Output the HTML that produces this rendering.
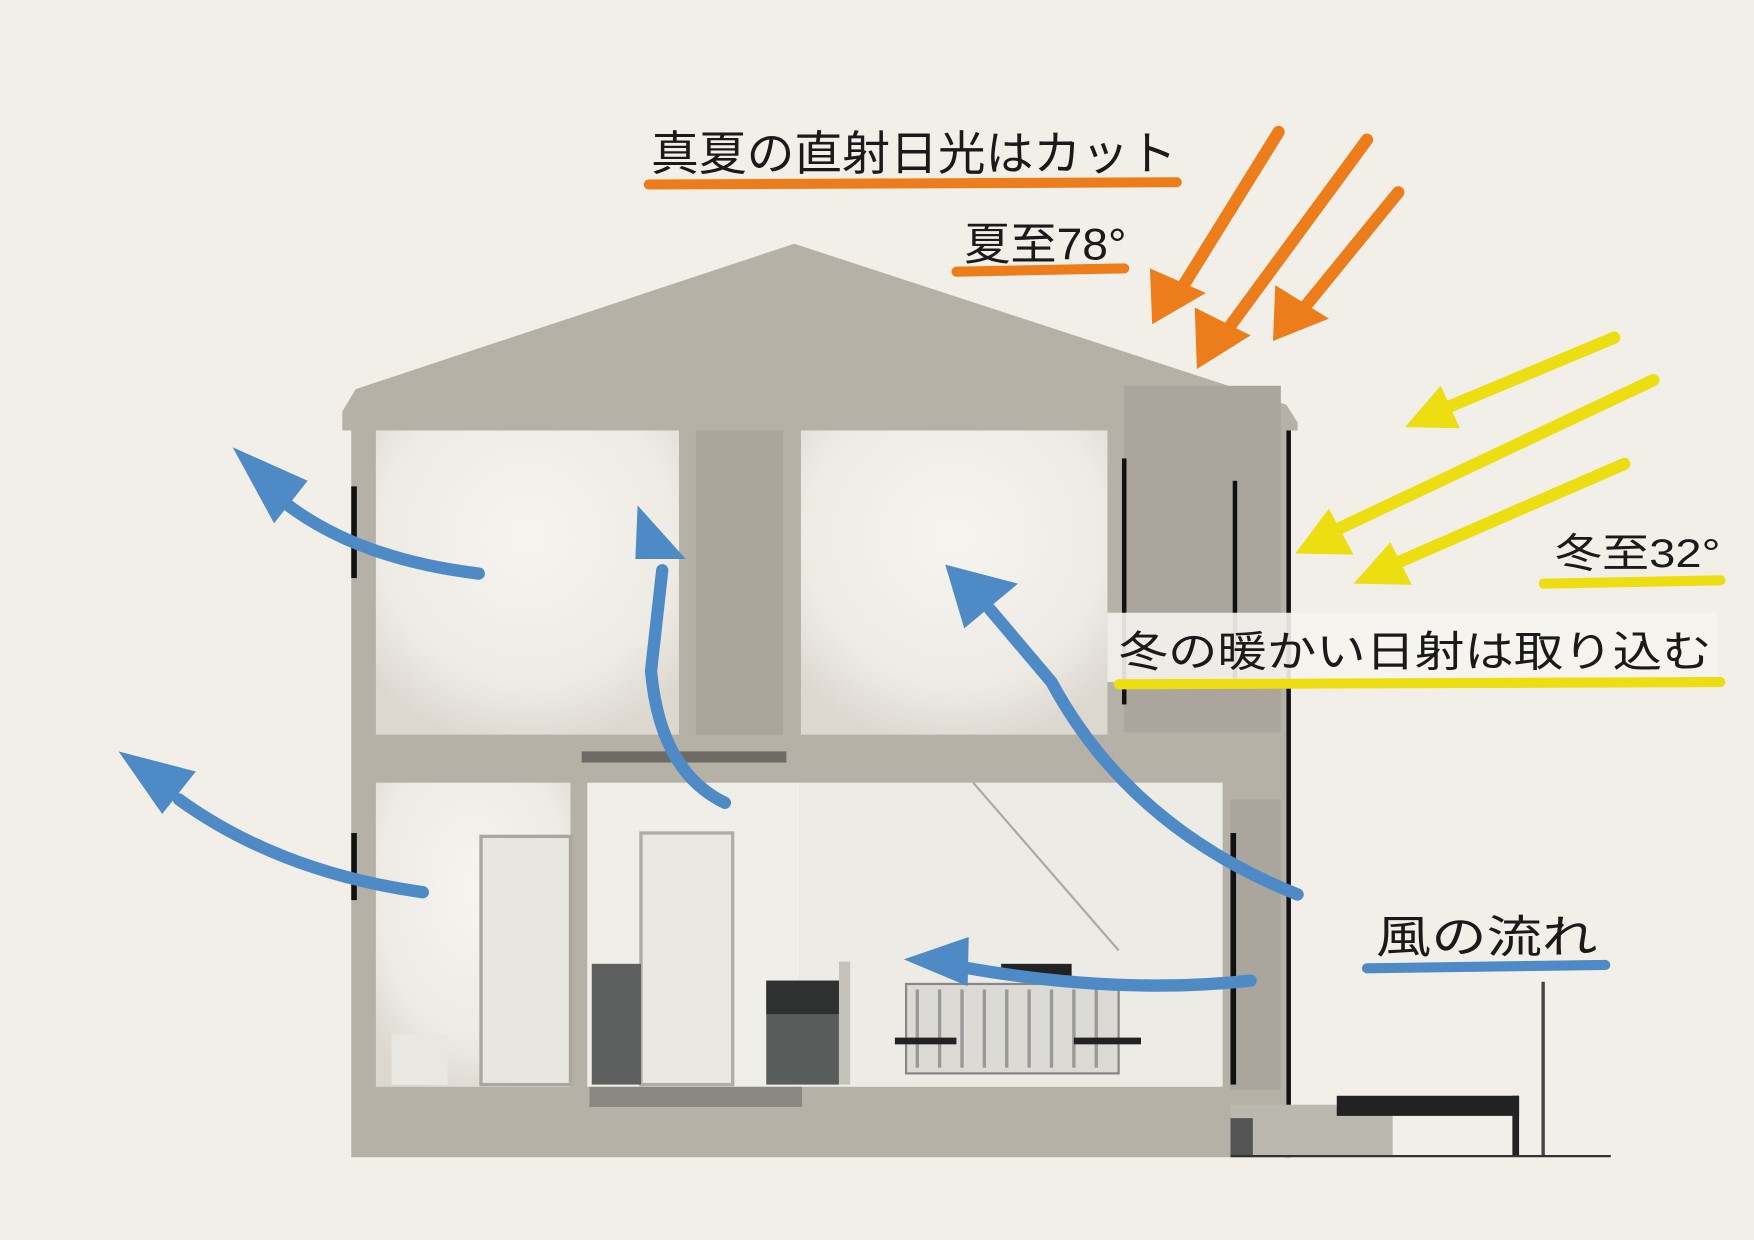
<!DOCTYPE html>
<html><head><meta charset="utf-8"><style>
html,body{margin:0;padding:0;background:#f2efe9;}
svg{display:block}
text{font-family:"Liberation Sans","Noto Sans CJK JP",sans-serif;fill:#1a1a1a;}
</style></head><body>
<svg width="1754" height="1240" viewBox="0 0 1568 1109" preserveAspectRatio="none" xmlns="http://www.w3.org/2000/svg">
<defs>
<radialGradient id="rg" cx="0.5" cy="0.35" r="0.7"><stop offset="0" stop-color="#f6f4ef"/><stop offset="0.7" stop-color="#eeebe5"/><stop offset="1" stop-color="#dcd8d0"/></radialGradient>
</defs>
<rect width="1568" height="1109" fill="#f2efe9"/>
<!-- house -->
<polygon points="318,348 710,218 1150,362 1160,378 1160,385 306,385 306,368" fill="#b6b1a7"/>
<rect x="314" y="380" width="840" height="655" fill="#b6b1a7"/>
<rect x="1005" y="345" width="140" height="310" fill="#aaa69e"/>
<rect x="336" y="385" width="271" height="272" fill="url(#rg)"/>
<rect x="622" y="385" width="78" height="272" fill="#aba69c"/>
<rect x="716" y="385" width="274" height="272" fill="url(#rg)"/>
<rect x="336" y="700" width="174" height="272" fill="url(#rg)"/>
<rect x="525" y="700" width="190" height="272" fill="#f0eee9"/>
<rect x="715" y="700" width="378" height="272" fill="#ecebe6"/>
<rect x="520" y="672" width="183" height="10" fill="#6e6b66"/>
<rect x="1100" y="715" width="45" height="260" fill="#aaa69e"/>
<rect x="430" y="748" width="80" height="222" fill="#e8e6e1" stroke="#a9a79f" stroke-width="3"/>
<rect x="350" y="925" width="50" height="45" fill="#e9e7e2"/>
<rect x="573" y="745" width="82" height="225" fill="#eae8e3" stroke="#b0ada6" stroke-width="3"/>
<rect x="529" y="862" width="44" height="108" fill="#5d605f"/>
<rect x="685" y="877" width="65" height="93" fill="#585c5b"/>
<rect x="685" y="877" width="65" height="30" fill="#2f3131"/>
<rect x="750" y="860" width="10" height="110" fill="#c5c2bb"/>
<rect x="810" y="880" width="190" height="80" fill="#dcdad5" stroke="#888" stroke-width="2"/>
<g stroke="#999" stroke-width="3"><line x1="820" y1="885" x2="820" y2="955"/><line x1="840" y1="885" x2="840" y2="955"/><line x1="860" y1="885" x2="860" y2="955"/><line x1="880" y1="885" x2="880" y2="955"/><line x1="900" y1="885" x2="900" y2="955"/><line x1="920" y1="885" x2="920" y2="955"/><line x1="940" y1="885" x2="940" y2="955"/><line x1="960" y1="885" x2="960" y2="955"/><line x1="980" y1="885" x2="980" y2="955"/></g>
<rect x="800" y="928" width="55" height="6" fill="#222"/><rect x="960" y="928" width="60" height="6" fill="#222"/>
<rect x="895" y="862" width="63" height="12" fill="#222"/>
<line x1="870" y1="700" x2="1000" y2="850" stroke="#aaa" stroke-width="2"/>
<rect x="527" y="972" width="190" height="18" fill="#8a8780"/>
<g fill="#111"><rect x="314" y="435" width="5" height="82"/><rect x="314" y="745" width="5" height="60"/><rect x="1003" y="410" width="4" height="220"/><rect x="1102" y="430" width="4" height="185"/><rect x="1100" y="745" width="5" height="225"/><rect x="1150" y="385" width="4" height="650"/></g>
<rect x="1100" y="988" width="145" height="45" fill="#bbb8b0"/>
<rect x="1100" y="1000" width="20" height="33" fill="#555"/>
<rect x="1195" y="980" width="163" height="18" fill="#222"/>
<rect x="1352" y="980" width="6" height="53" fill="#222"/>
<rect x="1378" y="878" width="3" height="155" fill="#444"/>
<line x1="1100" y1="1034" x2="1440" y2="1034" stroke="#333" stroke-width="2"/>
<!-- orange arrows -->
<g stroke="#ec7d1a" stroke-width="11" stroke-linecap="round" fill="none">
<line x1="1143" y1="118" x2="1055" y2="260"/>
<line x1="1222" y1="125" x2="1095" y2="298"/>
<line x1="1250" y1="172" x2="1162" y2="280"/>
</g>
<g fill="#ec7d1a">
<polygon points="1030,290 1028,240 1078,262"/>
<polygon points="1070,330 1068,275 1118,300"/>
<polygon points="1138,305 1140,255 1188,285"/>
</g>
<!-- yellow arrows -->
<g stroke="#ecde10" stroke-width="11" stroke-linecap="round" fill="none">
<line x1="1443" y1="302" x2="1290" y2="366"/>
<line x1="1478" y1="340" x2="1190" y2="476"/>
<line x1="1452" y1="415" x2="1245" y2="505"/>
</g>
<g fill="#ecde10">
<polygon points="1256,382 1288,345 1305,383"/>
<polygon points="1158,495 1188,455 1210,496"/>
<polygon points="1210,522 1243,485 1262,523"/>
</g>
<!-- blue arrows -->
<g stroke="#4e8ac6" stroke-width="11" stroke-linecap="round" fill="none">
<path d="M428,513 Q320,500 255,450"/>
<path d="M378,798 Q250,780 160,715"/>
<path d="M648,718 Q590,690 582,600 L592,510"/>
<path d="M1160,800 Q1010,740 940,610 L885,545"/>
<path d="M1118,877 Q1000,890 860,865"/>
</g>
<g fill="#4e8ac6">
<polygon points="208,400 275,430 245,468"/>
<polygon points="106,672 175,690 145,728"/>
<polygon points="570,452 613,500 568,500"/>
<polygon points="845,505 910,522 862,562"/>
<polygon points="808,858 866,838 865,882"/>
</g>
<!-- labels -->
<rect x="990" y="548" width="545" height="62" fill="#f6f4f0" opacity="0.9"/>
<g stroke-linecap="round" fill="none" stroke-width="9">
<line x1="580" y1="165" x2="1052" y2="163" stroke="#ec7d1a"/>
<line x1="855" y1="243" x2="1005" y2="240" stroke="#ec7d1a"/>
<line x1="1380" y1="522" x2="1538" y2="519" stroke="#ecde10"/>
<line x1="1000" y1="612" x2="1538" y2="610" stroke="#ecde10"/>
<line x1="1222" y1="866" x2="1435" y2="863" stroke="#4e8ac6"/>
</g>
<text x="582" y="152" font-size="42" textLength="470" lengthAdjust="spacingAndGlyphs">真夏の直射日光はカット</text>
<text x="862" y="232" font-size="40" textLength="145" lengthAdjust="spacingAndGlyphs">夏至78°</text>
<text x="1390" y="507" font-size="36" textLength="148" lengthAdjust="spacingAndGlyphs">冬至32°</text>
<text x="1000" y="596" font-size="38" textLength="530" lengthAdjust="spacingAndGlyphs">冬の暖かい日射は取り込む</text>
<text x="1230" y="852" font-size="40" textLength="198" lengthAdjust="spacingAndGlyphs">風の流れ</text>
</svg>
</body></html>
